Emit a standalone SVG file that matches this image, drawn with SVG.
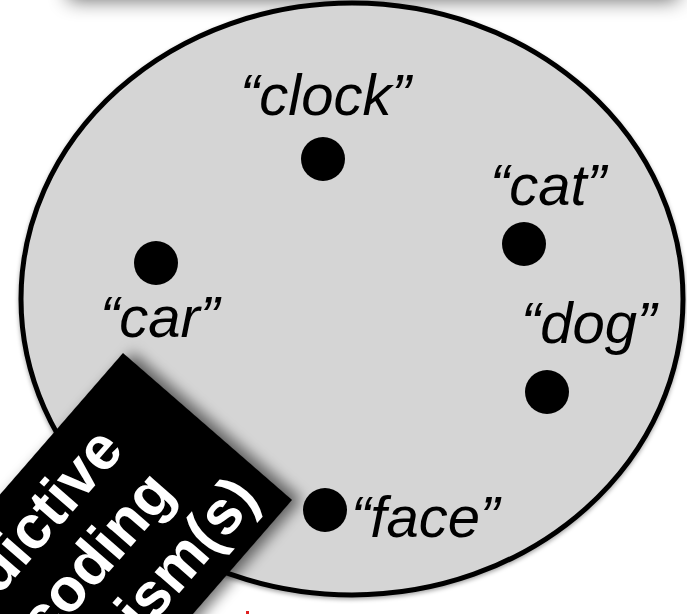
<svg xmlns="http://www.w3.org/2000/svg" width="687" height="614" viewBox="0 0 687 614">
  <defs>
    <filter id="barShadow" x="-20%" y="-50%" width="140%" height="200%">
      <feGaussianBlur stdDeviation="10"/>
    </filter>
    <filter id="boxShadow" x="-30%" y="-30%" width="160%" height="160%">
      <feDropShadow dx="7" dy="7" stdDeviation="7" flood-color="#000" flood-opacity="0.55"/>
    </filter>
    <filter id="ellShadow" x="-10%" y="-10%" width="120%" height="120%">
      <feDropShadow dx="0" dy="2" stdDeviation="2" flood-color="#000" flood-opacity="0.35"/>
    </filter>
  </defs>
  <style>
    .lbl { font-family: "Liberation Sans", Arial, Helvetica, sans-serif; font-style: italic; font-size: 58px; fill: #000; }
    .dot { fill: #000; }
    .boxtxt { font-family: "Liberation Sans", Arial, Helvetica, sans-serif; font-weight: bold; font-size: 61px; fill: #fff; text-anchor: end; }
  </style>
  <rect x="0" y="0" width="687" height="614" fill="#fff"/>
  <!-- shadow of bar above the frame -->
  <rect x="68" y="-60" width="610" height="60" fill="#000" opacity="0.6" filter="url(#barShadow)"/>

  <g id="space">
    <ellipse cx="352" cy="299" rx="331" ry="296" fill="#d5d5d5" stroke="#000" stroke-width="5" filter="url(#ellShadow)"/>
  </g>

  <g id="connectors"></g>

  <g id="node-clock">
    <circle class="dot" cx="323" cy="159" r="22"/>
    <text class="lbl" x="240" y="115">&#8220;clock&#8221;</text>
  </g>
  <g id="node-cat">
    <circle class="dot" cx="524" cy="244" r="22"/>
    <text class="lbl" x="490" y="205">&#8220;cat&#8221;</text>
  </g>
  <g id="node-car">
    <circle class="dot" cx="156" cy="263" r="22"/>
    <text class="lbl" x="100" y="337">&#8220;car&#8221;</text>
  </g>
  <g id="node-dog">
    <circle class="dot" cx="547" cy="392" r="22"/>
    <text class="lbl" x="521" y="343">&#8220;dog&#8221;</text>
  </g>
  <g id="node-face">
    <circle class="dot" cx="325" cy="510" r="22"/>
    <text class="lbl" x="351" y="537">&#8220;face&#8221;</text>
  </g>

  <g id="node-mechanism" transform="translate(123 353) rotate(-49)">
    <rect x="-700" y="0" width="700" height="224" fill="#000" filter="url(#boxShadow)"/>
    <text class="boxtxt" x="-72" y="66">dictive</text>
    <text class="boxtxt" x="-71" y="133">coding</text>
    <text class="boxtxt" x="-20" y="200">ism(s)</text>
  </g>

  <rect x="246" y="611" width="3" height="3" fill="#e02020"/>
</svg>
